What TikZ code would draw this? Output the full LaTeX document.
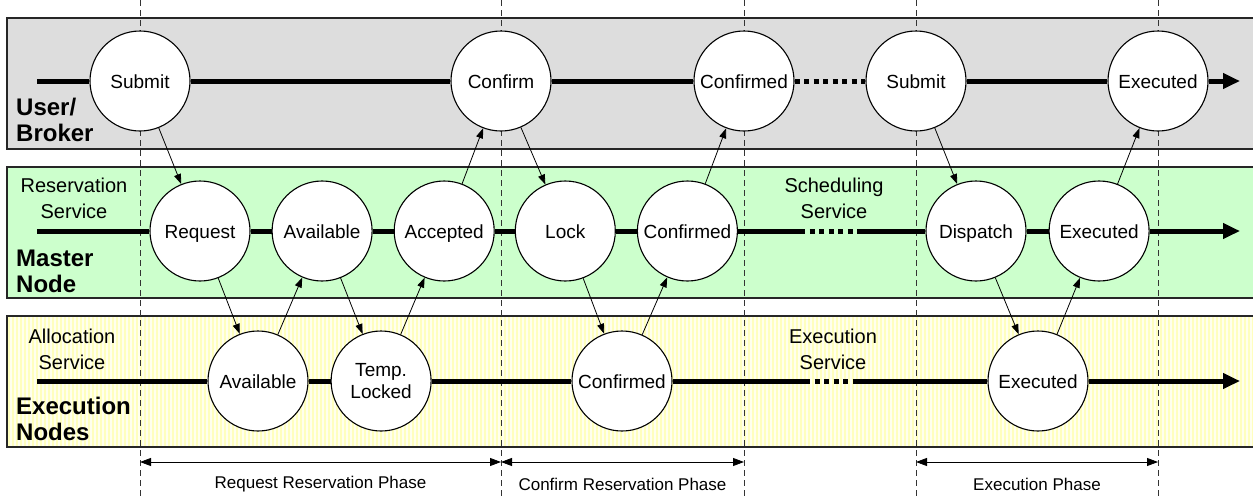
\documentclass[tikz,border=0pt]{standalone}
\usepackage{fontspec}
\setmainfont{Liberation Sans}
\usetikzlibrary{arrows.meta,positioning,backgrounds}

\definecolor{brokergray}{HTML}{DDDDDD}
\definecolor{mastergreen}{HTML}{CCFFCC}
\definecolor{execyellow}{HTML}{FFFFEE}
\definecolor{stripeyellow}{HTML}{FFFFBE}

\begin{document}
\begin{tikzpicture}[x=1pt,y=-1pt,
		circ/.style={circle,draw=black,fill=white,line width=1.1pt,inner sep=0pt,minimum size=100pt,font=\fontsize{19}{22}\selectfont},
		state/.style={circ,text height=15.5pt,text depth=0pt},
		double state/.style={circ,align=center},
		lane/.style={line width=5pt},
		lane dots/.style={line width=5pt,dash pattern=on 5pt off 4.5pt},
		lane end/.style={line width=5pt,-{Triangle[length=17pt,width=15pt]}},
		msg/.style={line width=0.8pt,-{Triangle[length=10pt,width=7pt]}},
		band/.style={draw=black!85,line width=1.2pt},
		guide/.style={draw=black!80,line width=0.8pt,dash pattern=on 6pt off 4pt},
		phase/.style={line width=0.8pt,{Triangle[length=11pt,width=8pt]}-{Triangle[length=11pt,width=8pt]}},
		service/.style={align=center,inner sep=0pt,font=\fontsize{20}{26}\selectfont},
		role/.style={align=left,anchor=west,inner sep=0pt,font=\bfseries\fontsize{24}{26}\selectfont},
		phase label/.style={font=\fontsize{17}{20}\selectfont}
	]
	\useasboundingbox (0,0) rectangle (1253,496);

	% the three bands
	\begin{scope}[on background layer]
		\fill[brokergray] (7,18) rectangle (1262,149);
		\draw[band] (1262,18) -- (7,18) -- (7,149) -- (1262,149);
		\fill[mastergreen] (7,167) rectangle (1262,298);
		\draw[band] (1262,167) -- (7,167) -- (7,298) -- (1262,298);
		\fill[execyellow] (7,316) rectangle (1262,447);
		\foreach \x in {9,13,...,1253}
			\draw[stripeyellow,line width=1.3pt] (\x,317) -- (\x,446);
		\draw[band] (1262,316) -- (7,316) -- (7,447) -- (1262,447);
	\end{scope}

	% user / broker
	\node[state] (submit) at (140,81) {Submit};
	\node[state] (confirm) at (501,81) {Confirm};
	\node[state] (confirmed) at (744,81) {Confirmed};
	\node[state] (resubmit) at (916,81) {Submit};
	\node[state] (executed) at (1158,81) {Executed};

	% master node
	\node[state] (request) at (200,231) {Request};
	\node[state] (available) [right=21pt of request] {Available};
	\node[state] (accepted) [right=21pt of available] {Accepted};
	\node[state] (lock) [right=20pt of accepted] {Lock};
	\node[state] (granted) [right=21pt of lock] {Confirmed};
	\node[state] (dispatch) at (976,231) {Dispatch};
	\node[state] (done) [right=22pt of dispatch] {Executed};

	% execution nodes
	\node[state] (free) at (258,381) {Available};
	\node[double state] (templock) [right=22pt of free] {Temp.\\Locked};
	\node[state] (committed) at (622,381) {Confirmed};
	\node[state] (finished) at (1038,381) {Executed};

	\coordinate (broker start) at (37,81);
	\coordinate (broker end) at (1240,81);
	\coordinate (master start) at (37,231);
	\coordinate (master gap) at (800,231);
	\coordinate (master gap end) at (857,231);
	\coordinate (master end) at (1240,231);
	\coordinate (exec start) at (37,381);
	\coordinate (exec gap) at (805,381);
	\coordinate (exec gap end) at (856,381);
	\coordinate (exec end) at (1240,381);

	\begin{scope}[on background layer]
		% phase guides
		\foreach \g in {submit,confirm,confirmed,resubmit,executed}
			\draw[guide] (\g |- 0,0) -- (\g |- 0,496);
		% lanes
		\draw[lane] (broker start) -- (submit) -- (confirm) -- (confirmed);
		\draw[lane dots] (confirmed.east) -- (resubmit.west);
		\draw[lane] (resubmit) -- (executed);
		\draw[lane end] (executed) -- (broker end);
		\draw[lane] (master start) -- (request) -- (available) -- (accepted) -- (lock) -- (granted) -- (master gap);
		\draw[lane dots] (master gap) -- (master gap end);
		\draw[lane] (master gap end) -- (dispatch) -- (done);
		\draw[lane end] (done) -- (master end);
		\draw[lane] (exec start) -- (free) -- (templock) -- (committed) -- (exec gap);
		\draw[lane dots] (exec gap) -- (exec gap end);
		\draw[lane] (exec gap end) -- (finished);
		\draw[lane end] (finished) -- (exec end);
	\end{scope}

	% labels
	\node[role] (broker) at (16,120) {User/\\Broker};
	\node[role] (master) at (16,271) {Master\\Node};
	\node[role] (execnodes) at (16,419) {Execution\\Nodes};
	\node[service] (reservation) at (74,198) {Reservation\\Service};
	\node[service] (allocation) at (72,349) {Allocation\\Service};
	\node[service] (scheduling) at (834,198) {Scheduling\\Service};
	\node[service] (execution) at (833,349) {Execution\\Service};

	% messages
	\draw[msg] (submit) -- (request);
	\draw[msg] (request) -- (free);
	\draw[msg] (free) -- (available);
	\draw[msg] (available) -- (templock);
	\draw[msg] (templock) -- (accepted);
	\draw[msg] (accepted) -- (confirm);
	\draw[msg] (confirm) -- (lock);
	\draw[msg] (lock) -- (committed);
	\draw[msg] (committed) -- (granted);
	\draw[msg] (granted) -- (confirmed);
	\draw[msg] (resubmit) -- (dispatch);
	\draw[msg] (dispatch) -- (finished);
	\draw[msg] (finished) -- (done);
	\draw[msg] (done) -- (executed);

	% phases
	\draw[phase] (submit |- 0,462) -- (confirm |- 0,462)
		node[phase label,midway,yshift=-22pt] {Request Reservation Phase};
	\draw[phase] (confirm |- 0,462) -- (confirmed |- 0,462)
		node[phase label,midway,yshift=-22pt] {Confirm Reservation Phase};
	\draw[phase] (resubmit |- 0,462) -- (executed |- 0,462)
		node[phase label,midway,yshift=-22pt] {Execution Phase};
\end{tikzpicture}
\end{document}
